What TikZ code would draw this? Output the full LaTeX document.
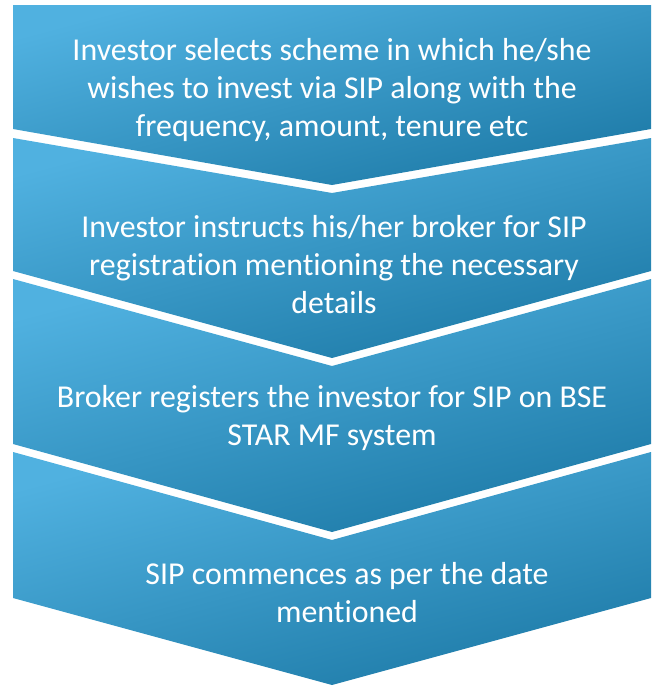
\documentclass[tikz,border=0pt]{standalone}
\usepackage{fontspec}
\setmainfont[Ligatures=NoCommon]{Carlito}
\usepackage{tikz}

\definecolor{chevtop}{RGB}{80,177,224}
\definecolor{chevbot}{RGB}{29,122,167}

\begin{document}
\begin{tikzpicture}[x=0.75pt,y=0.75pt,yscale=-1,xscale=1,
  chev/.style={top color=chevtop, bottom color=chevbot, shading angle=15, draw=none},
  steptxt/.style={inner sep=0pt, align=center, text=white, font=\fontsize{23.9}{28.5}\selectfont}]
\useasboundingbox (0,0) rectangle (651,686);

%Shape: Chevron 1 (flat top)
\shade [chev] (13,5) -- (651,5) -- (651,129) -- (332,185) -- (13,129) -- cycle ;
%Shape: Chevron 2
\shade [chev] (13,138) -- (332,193) -- (651,138) -- (651,271) -- (332,358) -- (13,271) -- cycle ;
%Shape: Chevron 3
\shade [chev] (13,279) -- (332,366) -- (651,279) -- (651,444) -- (332,532) -- (13,444) -- cycle ;
%Shape: Chevron 4
\shade [chev] (13,452) -- (332,540) -- (651,452) -- (651,598) -- (332,685) -- (13,598) -- cycle ;

% Text Node
\draw (332,90) node (selects) [steptxt] {Investor selects scheme in which he/she\\wishes to invest via SIP along with the\\frequency, amount, tenure etc};
% Text Node
\draw (334,265) node (instructs) [steptxt] {Investor instructs his/her broker for SIP\\registration mentioning the necessary\\details};
% Text Node
\draw (332,418) node (registers) [steptxt] {Broker registers the investor for SIP on BSE\\STAR MF system};
% Text Node
\draw (347,593) node (commences) [steptxt] {SIP commences as per the date\\mentioned};

\end{tikzpicture}
\end{document}
